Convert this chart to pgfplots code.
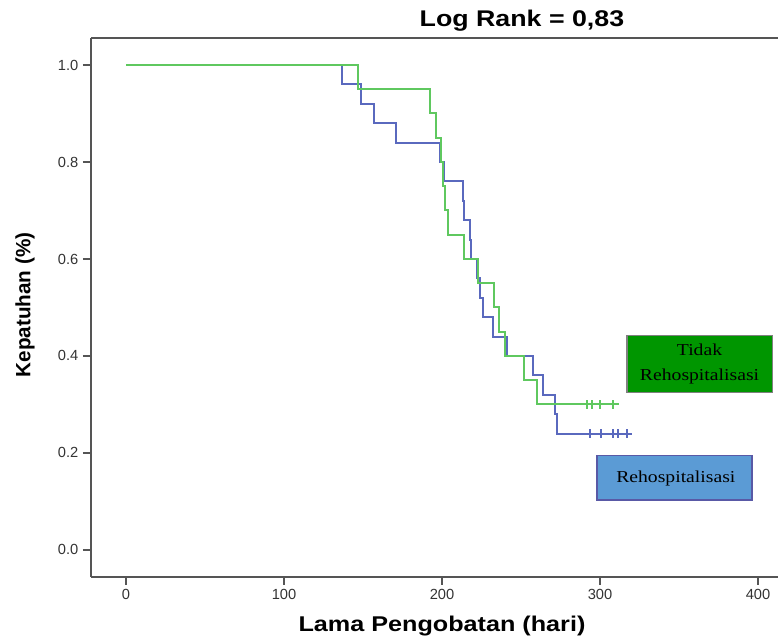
\documentclass[border=0pt]{standalone}
\usepackage{pgfplots}
\pgfplotsset{compat=1.18}
\usepackage{fontspec}
\setmainfont{Liberation Sans}
\newfontfamily\boxfont{Liberation Serif}
\definecolor{kmgreen}{RGB}{95,200,95}
\definecolor{kmblue}{RGB}{90,105,190}
\definecolor{boxgreen}{RGB}{0,150,0}
\definecolor{boxblue}{RGB}{91,155,213}
\definecolor{axgray}{RGB}{85,85,85}
\newcommand{\wide}[1]{\scalebox{1.18}[1]{#1}}

\begin{document}
\begin{tikzpicture}
\begin{axis}[
    scale only axis, width=515pt, height=404pt,
    xmin=-22.15, xmax=412.7, ymin=-0.0557, ymax=1.0557,
    axis x line*=bottom, axis y line*=left,
    axis line style={axgray, line width=1.2pt, -},
    tick align=outside, major tick length=6pt,
    tick style={axgray, line width=1.2pt},
    xtick={0,100,200,300,400},
    ytick={0,0.2,0.4,0.6,0.8,1.0},
    yticklabel style={/pgf/number format/.cd, fixed, fixed zerofill, precision=1},
    ticklabel style={font=\fontsize{11}{13}\selectfont, text=black!80},
    /pgf/number format/assume math mode=true,
    clip=false,
]
% top frame line
\draw[axgray, line width=1.2pt] (rel axis cs:0,1) -- (rel axis cs:1,1);

% Rehospitalisasi -- blue
\addplot[const plot, kmblue, line width=1.5pt] coordinates {
  (0,1.00)(136.5,0.96)(148.5,0.92)(157,0.88)(170.7,0.84)(198.7,0.80)(201,0.76)
  (213,0.72)(214,0.68)(218,0.64)(218.5,0.60)(222,0.56)(224,0.52)(225.7,0.48)
  (232,0.44)(241,0.40)(257.8,0.36)(264,0.32)(271.5,0.28)(273,0.24)(320,0.24)};
\addplot[only marks, mark=|, mark size=3.2pt, kmblue, mark options={line width=1.5pt}] coordinates {
  (293.7,0.24)(300.4,0.24)(308.4,0.24)(311.2,0.24)(317,0.24)};

% Tidak Rehospitalisasi -- green
\addplot[const plot, kmgreen, line width=1.5pt] coordinates {
  (0,1.00)(146.6,0.95)(192.4,0.90)(196.3,0.85)(199.4,0.80)(200.4,0.75)(202,0.70)
  (204,0.65)(213.7,0.60)(222.5,0.55)(233,0.50)(236,0.45)(240,0.40)(252,0.35)
  (260,0.30)(312,0.30)};
\addplot[only marks, mark=|, mark size=3.2pt, kmgreen, mark options={line width=1.5pt}] coordinates {
  (292,0.30)(295,0.30)(300,0.30)(308.4,0.30)};

% label boxes
\draw[fill=boxgreen, draw=gray, line width=0.8pt] (axis cs:317.1,0.324) rectangle (axis cs:408.9,0.443);
\node[align=center, font=\boxfont\fontsize{12.5}{18.5}\selectfont] at (axis cs:363,0.383)
  {\wide{Tidak}\\\wide{Rehospitalisasi}};
\draw[fill=boxblue, draw=gray!70!blue, line width=0.8pt] (axis cs:298.1,0.103) rectangle (axis cs:396.2,0.194);
\node[font=\boxfont\fontsize{12.5}{15}\selectfont] at (axis cs:348,0.148) {\wide{Rehospitalisasi}};

% titles
\node[font=\bfseries\fontsize{17}{20}\selectfont] at (axis cs:250.6,1.091) {\wide{Log Rank = 0,83}};
\node[font=\bfseries\fontsize{16}{19}\selectfont] at (axis cs:200,-0.1567) {\wide{Lama Pengobatan (hari)}};
\node[font=\bfseries\fontsize{15.5}{18}\selectfont, rotate=90] at (axis cs:-63.9,0.505) {Kepatuhan (\%)};

\coordinate (bbll) at (axis cs:-79.75,-0.1773);
\coordinate (bbur) at (axis cs:413.3,1.134);
\end{axis}
\pgfresetboundingbox
\path[use as bounding box] (bbll) rectangle (bbur);
\end{tikzpicture}
\end{document}
